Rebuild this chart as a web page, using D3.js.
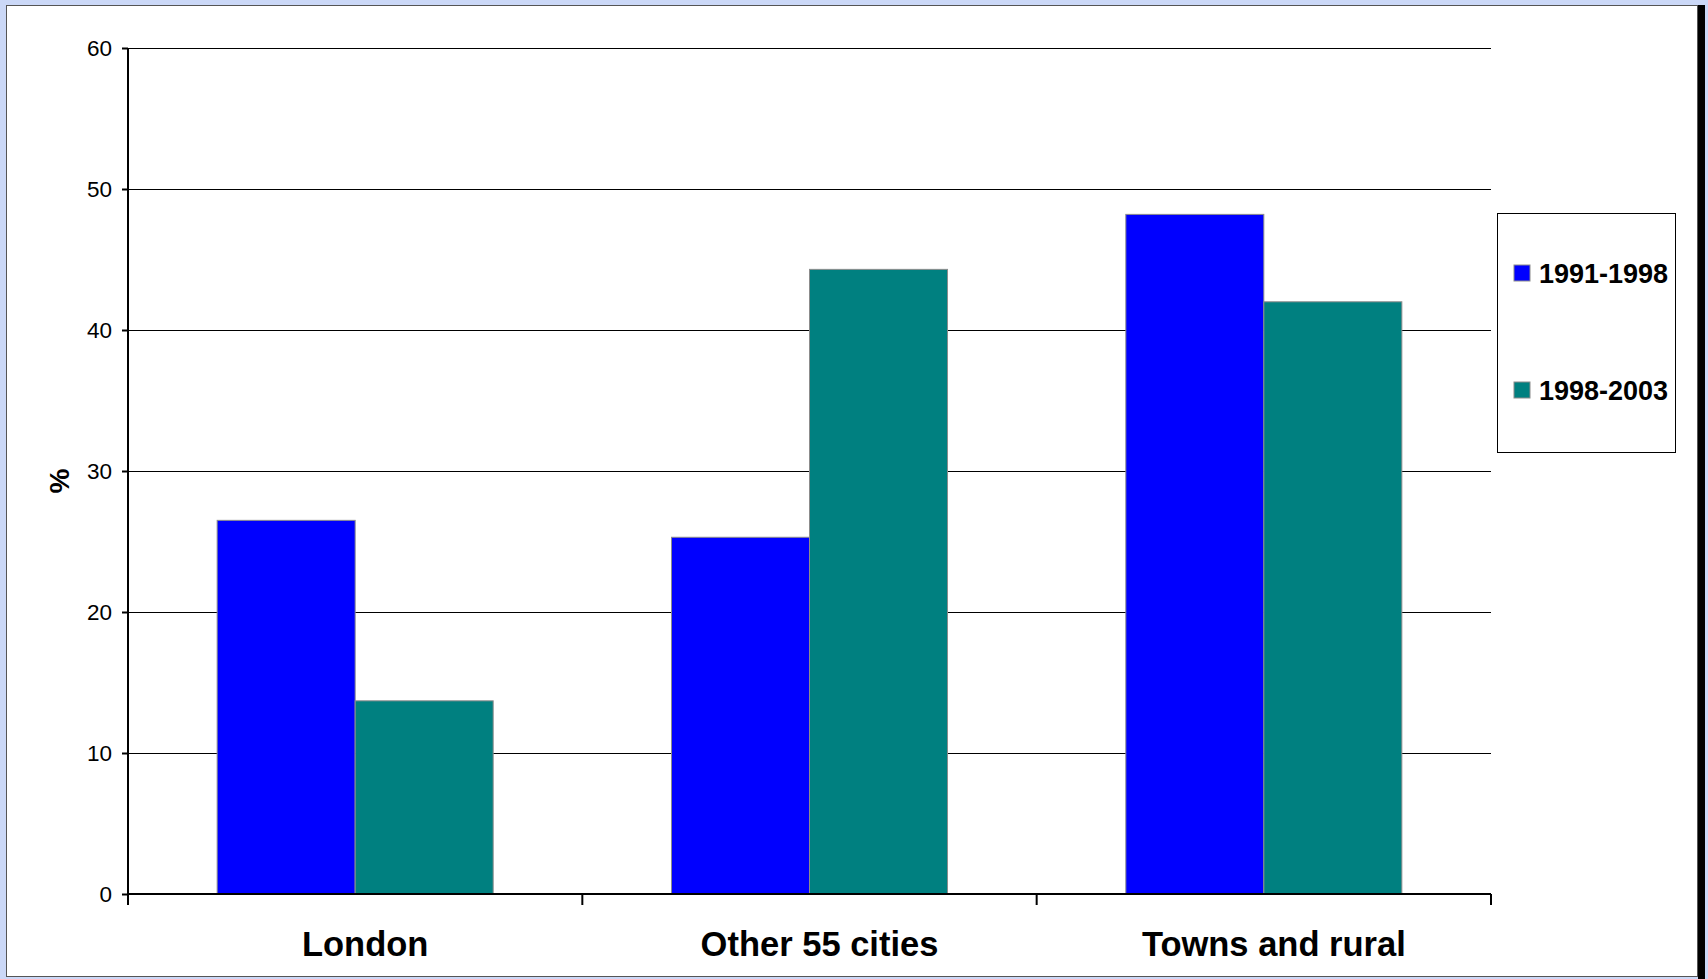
<!DOCTYPE html>
<html>
<head>
<meta charset="utf-8">
<script src="https://cdn.jsdelivr.net/npm/d3@7"></script>
<style>
  html, body { margin: 0; padding: 0; background: #cbd8f7; }
  svg { display: block; }
</style>
</head>
<body>
<svg id="chart" width="1708" height="979"></svg>
<script>
const categories = ["London", "Other 55 cities", "Towns and rural"];
const seriesNames = ["1991-1998", "1998-2003"];
const values1991_1998 = [26.5, 25.3, 48.2];
const values1998_2003 = [13.7, 44.3, 42.0];
const seriesColors = ["#0000ff", "#008080"];
const yTicks = [0, 10, 20, 30, 40, 50, 60];
const yLabel = "%";

const seriesValues = [values1991_1998, values1998_2003];
const data = categories.map((c, i) => ({
  category: c,
  values: seriesNames.map((s, j) => ({ series: s, value: seriesValues[j][i], color: seriesColors[j] }))
}));

const svg = d3.select("#chart");
const font = "'Liberation Sans', Arial, Helvetica, sans-serif";

// Background frame
svg.append("rect").attr("x", 0).attr("y", 0).attr("width", 1708).attr("height", 979).attr("fill", "#cbd8f7");
svg.append("rect").attr("x", 1698).attr("y", 5).attr("width", 7).attr("height", 974).attr("fill", "#000");
svg.append("rect").attr("x", 6.5).attr("y", 5.5).attr("width", 1691).attr("height", 971)
  .attr("fill", "#fff").attr("stroke", "#555").attr("stroke-width", 1);

const plot = { left: 128, right: 1491, top: 48, bottom: 894 };

const y = d3.scaleLinear().domain([0, 60]).range([plot.bottom, plot.top]);
const x0 = d3.scaleBand().domain(categories).range([plot.left, plot.right]).paddingInner(0).paddingOuter(0);
const x1 = d3.scaleBand().domain(seriesNames).range([0, x0.bandwidth()]).paddingInner(0).paddingOuter(0.646);

// Gridlines
svg.append("g")
  .selectAll("line")
  .data(yTicks.filter(t => t > 0))
  .join("line")
  .attr("x1", plot.left).attr("x2", plot.right)
  .attr("y1", d => Math.round(y(d)) + 0.5).attr("y2", d => Math.round(y(d)) + 0.5)
  .attr("stroke", "#000").attr("stroke-width", 1);

// Bars
const groups = svg.append("g").selectAll("g")
  .data(data).join("g")
  .attr("transform", d => `translate(${x0(d.category)},0)`);
groups.selectAll("rect")
  .data(d => d.values).join("rect")
  .attr("x", d => x1(d.series))
  .attr("y", d => y(d.value))
  .attr("width", x1.bandwidth())
  .attr("height", d => y(0) - y(d.value))
  .attr("fill", d => d.color)
  .attr("stroke", "#8c8c8c").attr("stroke-width", 1);

// Y axis
const yAxis = d3.axisLeft(y).tickValues(yTicks).tickSize(6).tickPadding(10).tickFormat(d3.format("d"));
const gy = svg.append("g").attr("transform", `translate(${plot.left},0)`).call(yAxis);
gy.select(".domain").attr("stroke", "#000").attr("stroke-width", 2).attr("d", `M0,${plot.top}V${plot.bottom + 11}`);
gy.selectAll(".tick line").attr("stroke", "#000").attr("stroke-width", 2);
gy.selectAll(".tick text").attr("font-family", font).attr("font-size", 22.5).attr("fill", "#000");

// X axis
const xAxis = d3.axisBottom(x0).tickSize(0).tickPadding(0).tickFormat("");
const gx = svg.append("g").attr("transform", `translate(0,${plot.bottom})`).call(xAxis);
gx.select(".domain").attr("stroke", "#000").attr("stroke-width", 2).attr("d", `M${plot.left},0H${plot.right}`);
gx.selectAll(".tick").remove();
const boundaries = categories.map(c => x0(c)).concat([plot.right]);
gx.selectAll("line.sep").data(boundaries).join("line")
  .attr("class", "sep")
  .attr("x1", d => d).attr("x2", d => d)
  .attr("y1", 0).attr("y2", 11)
  .attr("stroke", "#000").attr("stroke-width", 2);
gx.selectAll("text.cat").data(categories).join("text")
  .attr("class", "cat")
  .attr("x", d => x0(d) + x0.bandwidth() / 2 + 10)
  .attr("y", 62)
  .attr("text-anchor", "middle")
  .attr("font-family", font).attr("font-weight", "bold").attr("font-size", 34.5)
  .attr("fill", "#000")
  .text(d => d);

// Y label
svg.append("text")
  .attr("transform", "translate(69,481) rotate(-90)")
  .attr("text-anchor", "middle")
  .attr("font-family", font).attr("font-weight", "bold").attr("font-size", 28)
  .attr("fill", "#000")
  .text(yLabel);

// Legend
const legend = svg.append("g");
legend.append("rect").attr("x", 1497.5).attr("y", 213.5).attr("width", 178).attr("height", 239)
  .attr("fill", "#fff").attr("stroke", "#000").attr("stroke-width", 1);
const legendY = [273, 390];
const items = legend.selectAll("g.item").data(seriesNames).join("g").attr("class", "item")
  .attr("transform", (d, i) => `translate(1514,${legendY[i]})`);
items.append("rect").attr("x", 0).attr("y", -8).attr("width", 16).attr("height", 16)
  .attr("fill", (d, i) => seriesColors[i]).attr("stroke", "#8c8c8c").attr("stroke-width", 1);
items.append("text").attr("x", 25).attr("y", 10)
  .attr("font-family", font).attr("font-weight", "bold").attr("font-size", 27)
  .attr("fill", "#000")
  .text(d => d);
</script>
</body>
</html>
